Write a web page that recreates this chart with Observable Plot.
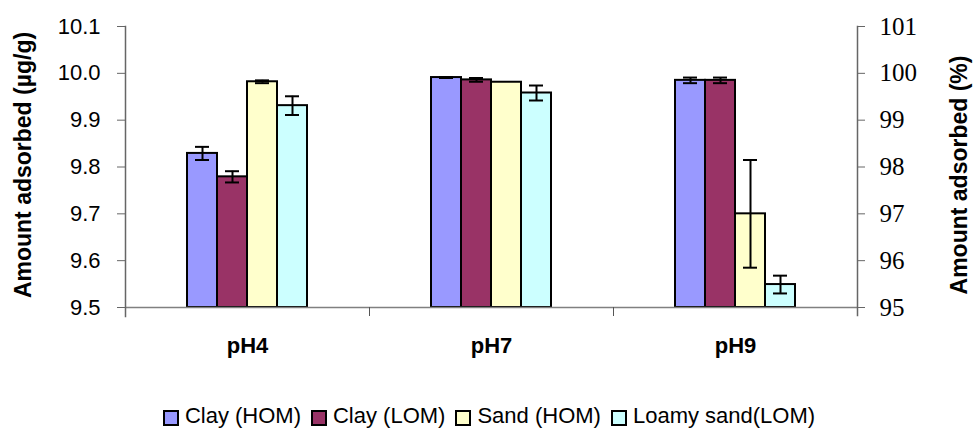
<!DOCTYPE html>
<html>
<head>
<meta charset="utf-8">
<script src="https://cdn.jsdelivr.net/npm/d3@7"></script>
<script src="https://cdn.jsdelivr.net/npm/@observablehq/plot@0.6"></script>
<style>
  html, body { margin: 0; padding: 0; background: #fff; }
  #chart svg { display: block; }
  #legend { display: flex; justify-content: center; align-items: center; height: 24px;
    font-family: "Liberation Sans", Arial, sans-serif; font-size: 22px; line-height: 24px; color: #000; padding-left: 4px; }
  .item { display: flex; align-items: center; margin: 0 5px; }
  .sw { width: 12px; height: 12px; border: 2px solid #000; margin-right: 6px; margin-top: 3px; }
</style>
</head>
<body>
<div id="chart"></div>
<div id="legend"></div>
<script>
const phLevels = ["pH4", "pH7", "pH9"];
const seriesNames = ["Clay (HOM)", "Clay (LOM)", "Sand (HOM)", "Loamy sand(LOM)"];
const seriesColors = ["#9999FF", "#993366", "#FFFFCC", "#CCFFFF"];

const clayHOM = [9.829, 9.991, 9.985];
const clayLOM = [9.779, 9.986, 9.985];
const sandHOM = [9.982, 9.981, 9.700];
const loamySand = [9.931, 9.958, 9.549];

const clayHOMErr = [0.014, 0.001, 0.006];
const clayLOMErr = [0.012, 0.004, 0.006];
const sandHOMErr = [0.003, 0.000, 0.115];
const loamySandErr = [0.020, 0.016, 0.019];

const yTicks = [9.5, 9.6, 9.7, 9.8, 9.9, 10.0, 10.1];
const pctTicks = [95, 96, 97, 98, 99, 100, 101];

const values = [clayHOM, clayLOM, sandHOM, loamySand];
const errs = [clayHOMErr, clayLOMErr, sandHOMErr, loamySandErr];

const data = [];
phLevels.forEach((ph, i) => {
  seriesNames.forEach((s, j) => {
    data.push({ph, series: s, value: values[j][i], err: errs[j][i]});
  });
});
const withErr = data.filter(d => d.err > 0);
const yMin = yTicks[0];

const chart = Plot.plot({
  width: 974,
  height: 404,
  marginTop: 26,
  marginBottom: 97,
  marginLeft: 124,
  marginRight: 116,
  style: {fontFamily: "'Liberation Sans', Arial, sans-serif", background: "#fff", color: "#000"},
  fx: {domain: phLevels, padding: 0, label: null},
  x: {domain: seriesNames, paddingInner: 0, paddingOuter: 2, axis: null},
  y: {domain: [yTicks[0], yTicks[yTicks.length - 1]], axis: null},
  color: {domain: seriesNames, range: seriesColors},
  marks: [
    Plot.barY(data, {fx: "ph", x: "series", y1: yMin, y2: "value", fill: "series", stroke: "#000", strokeWidth: 2, inset: 0}),
    Plot.ruleX(withErr, {fx: "ph", x: "series", y1: d => d.value - d.err, y2: d => d.value + d.err, stroke: "#000", strokeWidth: 2}),
    Plot.tickY(withErr, {fx: "ph", x: "series", y: d => d.value + d.err, stroke: "#000", strokeWidth: 2, insetLeft: 8, insetRight: 8}),
    Plot.tickY(withErr, {fx: "ph", x: "series", y: d => d.value - d.err, stroke: "#000", strokeWidth: 2, insetLeft: 8, insetRight: 8}),
    Plot.ruleY([yMin], {stroke: "#808080", strokeWidth: 1.5}),
    Plot.frame({anchor: "left", insetTop: 281, insetBottom: -8, stroke: "#555", strokeWidth: 1}),
    Plot.frame({facet: "super", anchor: "left", insetBottom: -9, stroke: "#666", strokeWidth: 1.5}),
    Plot.frame({facet: "super", anchor: "right", insetBottom: -8, stroke: "#666", strokeWidth: 1.5}),
    Plot.axisY({anchor: "left", ticks: yTicks, tickFormat: d3.format(".1f"), tickSize: 8, tickPadding: 17,
      fontSize: 22, label: null, stroke: "#666"}),
    Plot.axisY({anchor: "right", ticks: pctTicks.map(p => p / 10), tickFormat: d => String(Math.round(d * 10)),
      tickSize: 7, tickPadding: 15, fontSize: 25, fontFamily: "'Liberation Serif', 'Times New Roman', serif", label: null, stroke: "#666"}),
    Plot.axisFx({anchor: "bottom", tickSize: 0, tickPadding: 30, fontSize: 22, fontWeight: "bold", label: null}),
    Plot.text(["Amount adsorbed (µg/g)"], {facet: "super", frameAnchor: "left", textAnchor: "middle", rotate: -90, dx: -102, dy: -2, fontSize: 23, fontWeight: "bold"}),
    Plot.text(["Amount adsorbed (%)"], {facet: "super", frameAnchor: "right", textAnchor: "middle", rotate: -90, dx: 102, dy: 8, fontSize: 23, fontWeight: "bold"})
  ]
});
document.getElementById("chart").appendChild(chart);

const legend = document.getElementById("legend");
seriesNames.forEach((s, i) => {
  const item = document.createElement("div");
  item.className = "item";
  const sw = document.createElement("div");
  sw.className = "sw";
  sw.style.background = seriesColors[i];
  const t = document.createElement("span");
  t.textContent = s;
  item.appendChild(sw);
  item.appendChild(t);
  legend.appendChild(item);
});
</script>
</body>
</html>
